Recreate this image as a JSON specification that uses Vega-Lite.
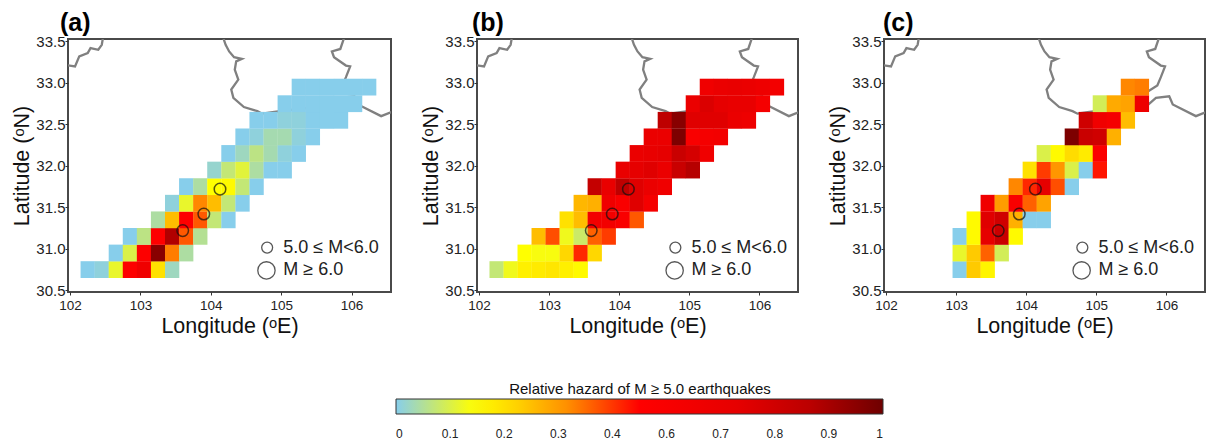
{
"$schema":"https://vega.github.io/schema/vega-lite/v6.json",
"padding":{"left":10,"top":10,"right":0,"bottom":0},
"background":"white",
"config":{"font":"Liberation Sans","view":{"stroke":"#4a4a4a","strokeWidth":2},
"axis":{"grid":false,"domain":false,"tickColor":"#333","tickSize":3,"labelColor":"#222","titleColor":"#111","titleFontWeight":"normal","titleFontSize":21.5},
"axisX":{"labelFontSize":13.5,"labelPadding":3,"titlePadding":4},
"axisY":{"labelFontSize":15,"labelPadding":0,"titlePadding":2},
"title":{"anchor":"start","frame":"group","fontSize":25,"fontWeight":"bold","color":"black","offset":-2}},
"datasets":{
"boundaries":[
{"s":1,"i":1,"lon":101.9,"lat":33.22},{"s":1,"i":2,"lon":102.07,"lat":33.2},{"s":1,"i":3,"lon":102.13,"lat":33.32},{"s":1,"i":4,"lon":102.25,"lat":33.36},{"s":1,"i":5,"lon":102.29,"lat":33.42},{"s":1,"i":6,"lon":102.4,"lat":33.4},{"s":1,"i":7,"lon":102.45,"lat":33.46},{"s":1,"i":8,"lon":102.47,"lat":33.56},
{"s":2,"i":1,"lon":104.17,"lat":33.56},{"s":2,"i":2,"lon":104.21,"lat":33.46},{"s":2,"i":3,"lon":104.26,"lat":33.38},{"s":2,"i":4,"lon":104.33,"lat":33.31},{"s":2,"i":5,"lon":104.44,"lat":33.29},{"s":2,"i":6,"lon":104.36,"lat":33.26},{"s":2,"i":7,"lon":104.34,"lat":33.16},{"s":2,"i":8,"lon":104.39,"lat":33.04},{"s":2,"i":9,"lon":104.29,"lat":32.92},{"s":2,"i":10,"lon":104.32,"lat":32.82},{"s":2,"i":11,"lon":104.47,"lat":32.71},{"s":2,"i":12,"lon":104.66,"lat":32.66},{"s":2,"i":13,"lon":104.73,"lat":32.63},{"s":2,"i":14,"lon":104.9,"lat":32.65},{"s":2,"i":15,"lon":105.74,"lat":32.74},{"s":2,"i":16,"lon":105.85,"lat":32.82},{"s":2,"i":17,"lon":106.04,"lat":32.84},{"s":2,"i":18,"lon":106.09,"lat":32.74},{"s":2,"i":19,"lon":106.42,"lat":32.6},{"s":2,"i":20,"lon":106.6,"lat":32.66},
{"s":3,"i":1,"lon":105.9,"lat":33.56},{"s":3,"i":2,"lon":105.84,"lat":33.41},{"s":3,"i":3,"lon":105.72,"lat":33.38},{"s":3,"i":4,"lon":105.75,"lat":33.31},{"s":3,"i":5,"lon":105.92,"lat":33.21},{"s":3,"i":6,"lon":105.98,"lat":33.2},{"s":3,"i":7,"lon":105.92,"lat":33.07},{"s":3,"i":8,"lon":105.87,"lat":32.97},{"s":3,"i":9,"lon":105.74,"lat":32.9}
],
"quakes":[{"lon":104.13,"lat":31.72},{"lon":103.9,"lat":31.42},{"lon":103.6,"lat":31.22}],
"keySymbols":[{"lon":104.8,"lat":31.015,"k":"small"},{"lon":104.79,"lat":30.74,"k":"large"}],
"keyLabels":[{"lon":105.03,"lat":31.015,"label":"5.0 ≤ M<6.0"},{"lon":105.03,"lat":30.74,"label":"M ≥ 6.0"}],
"a":[
{"lon":102.25,"lat":30.75,"h":0},{"lon":102.45,"lat":30.75,"h":0.01},{"lon":102.65,"lat":30.75,"h":0.13},{"lon":102.85,"lat":30.75,"h":0.52},{"lon":103.05,"lat":30.75,"h":0.62},{"lon":103.25,"lat":30.75,"h":0.22},{"lon":103.45,"lat":30.75,"h":0.03},
{"lon":102.65,"lat":30.95,"h":0},{"lon":102.85,"lat":30.95,"h":0.11},{"lon":103.05,"lat":30.95,"h":0.52},{"lon":103.25,"lat":30.95,"h":0.95},{"lon":103.45,"lat":30.95,"h":0.37},{"lon":103.65,"lat":30.95,"h":0.05},
{"lon":102.85,"lat":31.15,"h":0},{"lon":103.05,"lat":31.15,"h":0.07},{"lon":103.25,"lat":31.15,"h":0.52},{"lon":103.45,"lat":31.15,"h":0.87},{"lon":103.65,"lat":31.15,"h":0.41},{"lon":103.85,"lat":31.15,"h":0.06},
{"lon":103.25,"lat":31.35,"h":0.05},{"lon":103.45,"lat":31.35,"h":0.28},{"lon":103.65,"lat":31.35,"h":0.52},{"lon":103.85,"lat":31.35,"h":0.41},{"lon":104.05,"lat":31.35,"h":0.08},{"lon":104.25,"lat":31.35,"h":0},
{"lon":103.45,"lat":31.55,"h":0.01},{"lon":103.65,"lat":31.55,"h":0.13},{"lon":103.85,"lat":31.55,"h":0.36},{"lon":104.05,"lat":31.55,"h":0.28},{"lon":104.25,"lat":31.55,"h":0.08},{"lon":104.45,"lat":31.55,"h":0},
{"lon":103.65,"lat":31.75,"h":0},{"lon":103.85,"lat":31.75,"h":0.05},{"lon":104.05,"lat":31.75,"h":0.16},{"lon":104.25,"lat":31.75,"h":0.17},{"lon":104.45,"lat":31.75,"h":0.08},{"lon":104.65,"lat":31.75,"h":0},
{"lon":104.05,"lat":31.95,"h":0.02},{"lon":104.25,"lat":31.95,"h":0.08},{"lon":104.45,"lat":31.95,"h":0.12},{"lon":104.65,"lat":31.95,"h":0.05},{"lon":104.85,"lat":31.95,"h":0},{"lon":105.05,"lat":31.95,"h":0},
{"lon":104.25,"lat":32.15,"h":0},{"lon":104.45,"lat":32.15,"h":0.03},{"lon":104.65,"lat":32.15,"h":0.07},{"lon":104.85,"lat":32.15,"h":0.04},{"lon":105.05,"lat":32.15,"h":0.01},{"lon":105.25,"lat":32.15,"h":0},
{"lon":104.45,"lat":32.35,"h":0},{"lon":104.65,"lat":32.35,"h":0.01},{"lon":104.85,"lat":32.35,"h":0.04},{"lon":105.05,"lat":32.35,"h":0.04},{"lon":105.25,"lat":32.35,"h":0.01},{"lon":105.45,"lat":32.35,"h":0},
{"lon":104.65,"lat":32.55,"h":0},{"lon":104.85,"lat":32.55,"h":0},{"lon":105.05,"lat":32.55,"h":0.01},{"lon":105.25,"lat":32.55,"h":0.01},{"lon":105.45,"lat":32.55,"h":0},{"lon":105.65,"lat":32.55,"h":0},{"lon":105.85,"lat":32.55,"h":0},
{"lon":105.05,"lat":32.75,"h":0},{"lon":105.25,"lat":32.75,"h":0},{"lon":105.45,"lat":32.75,"h":0},{"lon":105.65,"lat":32.75,"h":0},{"lon":105.85,"lat":32.75,"h":0},{"lon":106.05,"lat":32.75,"h":0},
{"lon":105.25,"lat":32.95,"h":0},{"lon":105.45,"lat":32.95,"h":0},{"lon":105.65,"lat":32.95,"h":0},{"lon":105.85,"lat":32.95,"h":0},{"lon":106.05,"lat":32.95,"h":0},{"lon":106.25,"lat":32.95,"h":0}
],
"b":[
{"lon":102.25,"lat":30.75,"h":0.08},{"lon":102.45,"lat":30.75,"h":0.14},{"lon":102.65,"lat":30.75,"h":0.19},{"lon":102.85,"lat":30.75,"h":0.2},{"lon":103.05,"lat":30.75,"h":0.21},{"lon":103.25,"lat":30.75,"h":0.19},{"lon":103.45,"lat":30.75,"h":0.17},
{"lon":102.65,"lat":30.95,"h":0.16},{"lon":102.85,"lat":30.95,"h":0.15},{"lon":103.05,"lat":30.95,"h":0.15},{"lon":103.25,"lat":30.95,"h":0.24},{"lon":103.45,"lat":30.95,"h":0.46},{"lon":103.65,"lat":30.95,"h":0.24},
{"lon":102.85,"lat":31.15,"h":0.28},{"lon":103.05,"lat":31.15,"h":0.42},{"lon":103.25,"lat":31.15,"h":0.14},{"lon":103.45,"lat":31.15,"h":0.09},{"lon":103.65,"lat":31.15,"h":0.4},{"lon":103.85,"lat":31.15,"h":0.44},
{"lon":103.25,"lat":31.35,"h":0.22},{"lon":103.45,"lat":31.35,"h":0.28},{"lon":103.65,"lat":31.35,"h":0.6},{"lon":103.85,"lat":31.35,"h":0.6},{"lon":104.05,"lat":31.35,"h":0.55},{"lon":104.25,"lat":31.35,"h":0.41},
{"lon":103.45,"lat":31.55,"h":0.29},{"lon":103.65,"lat":31.55,"h":0.3},{"lon":103.85,"lat":31.55,"h":0.62},{"lon":104.05,"lat":31.55,"h":0.55},{"lon":104.25,"lat":31.55,"h":0.72},{"lon":104.45,"lat":31.55,"h":0.58},
{"lon":103.65,"lat":31.75,"h":0.82},{"lon":103.85,"lat":31.75,"h":0.68},{"lon":104.05,"lat":31.75,"h":0.84},{"lon":104.25,"lat":31.75,"h":0.72},{"lon":104.45,"lat":31.75,"h":0.66},{"lon":104.65,"lat":31.75,"h":0.62},
{"lon":104.05,"lat":31.95,"h":0.68},{"lon":104.25,"lat":31.95,"h":0.7},{"lon":104.45,"lat":31.95,"h":0.72},{"lon":104.65,"lat":31.95,"h":0.66},{"lon":104.85,"lat":31.95,"h":0.8},{"lon":105.05,"lat":31.95,"h":0.86},
{"lon":104.25,"lat":32.15,"h":0.66},{"lon":104.45,"lat":32.15,"h":0.68},{"lon":104.65,"lat":32.15,"h":0.7},{"lon":104.85,"lat":32.15,"h":0.8},{"lon":105.05,"lat":32.15,"h":0.76},{"lon":105.25,"lat":32.15,"h":0.62},
{"lon":104.45,"lat":32.35,"h":0.66},{"lon":104.65,"lat":32.35,"h":0.66},{"lon":104.85,"lat":32.35,"h":0.97},{"lon":105.05,"lat":32.35,"h":0.55},{"lon":105.25,"lat":32.35,"h":0.58},{"lon":105.45,"lat":32.35,"h":0.6},
{"lon":104.65,"lat":32.55,"h":0.84},{"lon":104.85,"lat":32.55,"h":0.95},{"lon":105.05,"lat":32.55,"h":0.72},{"lon":105.25,"lat":32.55,"h":0.72},{"lon":105.45,"lat":32.55,"h":0.72},{"lon":105.65,"lat":32.55,"h":0.66},{"lon":105.85,"lat":32.55,"h":0.64},
{"lon":105.05,"lat":32.75,"h":0.66},{"lon":105.25,"lat":32.75,"h":0.74},{"lon":105.45,"lat":32.75,"h":0.7},{"lon":105.65,"lat":32.75,"h":0.68},{"lon":105.85,"lat":32.75,"h":0.68},{"lon":106.05,"lat":32.75,"h":0.58},
{"lon":105.25,"lat":32.95,"h":0.62},{"lon":105.45,"lat":32.95,"h":0.66},{"lon":105.65,"lat":32.95,"h":0.68},{"lon":105.85,"lat":32.95,"h":0.66},{"lon":106.05,"lat":32.95,"h":0.64},{"lon":106.25,"lat":32.95,"h":0.6}
],
"c":[
{"lon":103.05,"lat":30.75,"h":0},{"lon":103.25,"lat":30.75,"h":0.26},{"lon":103.45,"lat":30.75,"h":0.18},
{"lon":103.05,"lat":30.95,"h":0.13},{"lon":103.25,"lat":30.95,"h":0.26},{"lon":103.45,"lat":30.95,"h":0.4},{"lon":103.65,"lat":30.95,"h":0.1},
{"lon":103.05,"lat":31.15,"h":0},{"lon":103.25,"lat":31.15,"h":0.17},{"lon":103.45,"lat":31.15,"h":0.7},{"lon":103.65,"lat":31.15,"h":0.8},{"lon":103.85,"lat":31.15,"h":0.17},
{"lon":103.25,"lat":31.35,"h":0.17},{"lon":103.45,"lat":31.35,"h":0.72},{"lon":103.65,"lat":31.35,"h":0.78},{"lon":103.85,"lat":31.35,"h":0.3},{"lon":104.05,"lat":31.35,"h":0},{"lon":104.25,"lat":31.35,"h":0},
{"lon":103.45,"lat":31.55,"h":0.62},{"lon":103.65,"lat":31.55,"h":0.33},{"lon":103.85,"lat":31.55,"h":0.55},{"lon":104.05,"lat":31.55,"h":0.4},{"lon":104.25,"lat":31.55,"h":0.32},
{"lon":103.85,"lat":31.75,"h":0.36},{"lon":104.05,"lat":31.75,"h":0.46},{"lon":104.25,"lat":31.75,"h":0.7},{"lon":104.45,"lat":31.75,"h":0.42},{"lon":104.65,"lat":31.75,"h":0},
{"lon":104.05,"lat":31.95,"h":0.22},{"lon":104.25,"lat":31.95,"h":0.44},{"lon":104.45,"lat":31.95,"h":0.34},{"lon":104.65,"lat":31.95,"h":0.11},{"lon":104.85,"lat":31.95,"h":0},{"lon":105.05,"lat":31.95,"h":0.48},
{"lon":104.25,"lat":32.15,"h":0.11},{"lon":104.45,"lat":32.15,"h":0.17},{"lon":104.65,"lat":32.15,"h":0.23},{"lon":104.85,"lat":32.15,"h":0.2},{"lon":105.05,"lat":32.15,"h":0.53},
{"lon":104.65,"lat":32.35,"h":0.97},{"lon":104.85,"lat":32.35,"h":0.8},{"lon":105.05,"lat":32.35,"h":0.78},{"lon":105.25,"lat":32.35,"h":0.3},
{"lon":104.85,"lat":32.55,"h":0.78},{"lon":105.05,"lat":32.55,"h":0.62},{"lon":105.25,"lat":32.55,"h":0.58},{"lon":105.45,"lat":32.55,"h":0.28},
{"lon":105.05,"lat":32.75,"h":0.1},{"lon":105.25,"lat":32.75,"h":0.31},{"lon":105.45,"lat":32.75,"h":0.32},{"lon":105.65,"lat":32.75,"h":0.64},
{"lon":105.45,"lat":32.95,"h":0.36},{"lon":105.65,"lat":32.95,"h":0.37}
]},
"hconcat":[
{"title":{"text":"(a)","dx":-8},"width":323,"height":253,
"layer":[
{"data":{"name":"boundaries"},"mark":{"type":"line","color":"#808080","strokeWidth":2.3,"clip":true},"encoding":{"x":{"field":"lon","type":"quantitative","scale":{"domain":[101.97,106.56],"nice":false,"zero":false},"axis":{"values":[102,103,104,105,106],"format":"d","title":"Longitude (ᵒE)"}},"y":{"field":"lat","type":"quantitative","scale":{"domain":[30.48,33.53],"nice":false,"zero":false},"axis":{"values":[30.5,31,31.5,32,32.5,33,33.5],"format":".1f","title":"Latitude (ᵒN)"}},"detail":{"field":"s"},"order":{"field":"i"}}},
{"data":{"name":"a"},"mark":{"type":"rect","width":14.3,"height":16.8},"encoding":{"x":{"field":"lon","type":"quantitative"},"y":{"field":"lat","type":"quantitative"},
"color":{"field":"h","type":"quantitative","title":"Relative hazard of M ≥ 5.0 earthquakes","scale":{"domain":[0,0.16,0.24,0.35,0.43,0.5,0.7,0.85,1],"range":["#87CEEB","#FFFF00","#FFD700","#FF9000","#FF4500","#FF0000","#E60000","#BB0000","#6E0000"],"interpolate":"rgb","zero":false,"nice":false},
"legend":{"type":"gradient","orient":"none","legendX":328,"legendY":343,"direction":"horizontal","gradientLength":487,"gradientThickness":15,"gradientStrokeColor":"#333","gradientStrokeWidth":1,"values":[0,0.1111,0.2222,0.3333,0.4444,0.5556,0.6667,0.7778,0.8889,1],"format":".1~f","labelFontSize":12,"labelColor":"#222","labelOffset":15,"labelAlign":"center","labelOverlap":false,"titleFontSize":15,"titleFontWeight":"normal","titleColor":"#111","titleAnchor":"middle","titleOrient":"top","titlePadding":2,"titleLimit":500}}}},
{"data":{"name":"quakes"},"mark":{"type":"point","shape":"circle","filled":false,"stroke":"#111","strokeWidth":1.5,"size":133},"encoding":{"x":{"field":"lon","type":"quantitative"},"y":{"field":"lat","type":"quantitative"}}},
{"data":{"name":"keySymbols"},"mark":{"type":"point","shape":"circle","filled":false,"stroke":"#111","strokeWidth":1.3},"encoding":{"x":{"field":"lon","type":"quantitative"},"y":{"field":"lat","type":"quantitative"},"size":{"field":"k","type":"nominal","scale":{"domain":["small","large"],"range":[120,300]},"legend":null}}},
{"data":{"name":"keyLabels"},"mark":{"type":"text","align":"left","baseline":"middle","fontSize":18,"color":"#222"},"encoding":{"x":{"field":"lon","type":"quantitative"},"y":{"field":"lat","type":"quantitative"},"text":{"field":"label"}}}
]},
{"title":{"text":"(b)","dx":-5},"width":321,"height":253,
"layer":[
{"data":{"name":"boundaries"},"mark":{"type":"line","color":"#808080","strokeWidth":2.3,"clip":true},"encoding":{"x":{"field":"lon","type":"quantitative","scale":{"domain":[101.97,106.55],"nice":false,"zero":false},"axis":{"values":[102,103,104,105,106],"format":"d","title":"Longitude (ᵒE)"}},"y":{"field":"lat","type":"quantitative","scale":{"domain":[30.48,33.53],"nice":false,"zero":false},"axis":{"values":[30.5,31,31.5,32,32.5,33,33.5],"format":".1f","title":"Latitude (ᵒN)"}},"detail":{"field":"s"},"order":{"field":"i"}}},
{"data":{"name":"b"},"mark":{"type":"rect","width":14.3,"height":16.8},"encoding":{"x":{"field":"lon","type":"quantitative"},"y":{"field":"lat","type":"quantitative"},
"color":{"field":"h","type":"quantitative","scale":{"domain":[0,0.16,0.24,0.35,0.43,0.5,0.7,0.85,1],"range":["#87CEEB","#FFFF00","#FFD700","#FF9000","#FF4500","#FF0000","#E60000","#BB0000","#6E0000"],"interpolate":"rgb","zero":false,"nice":false}}}},
{"data":{"name":"quakes"},"mark":{"type":"point","shape":"circle","filled":false,"stroke":"#111","strokeWidth":1.5,"size":133},"encoding":{"x":{"field":"lon","type":"quantitative"},"y":{"field":"lat","type":"quantitative"}}},
{"data":{"name":"keySymbols"},"mark":{"type":"point","shape":"circle","filled":false,"stroke":"#111","strokeWidth":1.3},"encoding":{"x":{"field":"lon","type":"quantitative"},"y":{"field":"lat","type":"quantitative"},"size":{"field":"k","type":"nominal","scale":{"domain":["small","large"],"range":[120,300]},"legend":null}}},
{"data":{"name":"keyLabels"},"mark":{"type":"text","align":"left","baseline":"middle","fontSize":18,"color":"#222"},"encoding":{"x":{"field":"lon","type":"quantitative"},"y":{"field":"lat","type":"quantitative"},"text":{"field":"label"}}}
]},
{"title":{"text":"(c)","dx":-1},"width":321,"height":253,
"layer":[
{"data":{"name":"boundaries"},"mark":{"type":"line","color":"#808080","strokeWidth":2.3,"clip":true},"encoding":{"x":{"field":"lon","type":"quantitative","scale":{"domain":[101.97,106.55],"nice":false,"zero":false},"axis":{"values":[102,103,104,105,106],"format":"d","title":"Longitude (ᵒE)"}},"y":{"field":"lat","type":"quantitative","scale":{"domain":[30.48,33.53],"nice":false,"zero":false},"axis":{"values":[30.5,31,31.5,32,32.5,33,33.5],"format":".1f","title":"Latitude (ᵒN)"}},"detail":{"field":"s"},"order":{"field":"i"}}},
{"data":{"name":"c"},"mark":{"type":"rect","width":14.3,"height":16.8},"encoding":{"x":{"field":"lon","type":"quantitative"},"y":{"field":"lat","type":"quantitative"},
"color":{"field":"h","type":"quantitative","scale":{"domain":[0,0.16,0.24,0.35,0.43,0.5,0.7,0.85,1],"range":["#87CEEB","#FFFF00","#FFD700","#FF9000","#FF4500","#FF0000","#E60000","#BB0000","#6E0000"],"interpolate":"rgb","zero":false,"nice":false}}}},
{"data":{"name":"quakes"},"mark":{"type":"point","shape":"circle","filled":false,"stroke":"#111","strokeWidth":1.5,"size":133},"encoding":{"x":{"field":"lon","type":"quantitative"},"y":{"field":"lat","type":"quantitative"}}},
{"data":{"name":"keySymbols"},"mark":{"type":"point","shape":"circle","filled":false,"stroke":"#111","strokeWidth":1.3},"encoding":{"x":{"field":"lon","type":"quantitative"},"y":{"field":"lat","type":"quantitative"},"size":{"field":"k","type":"nominal","scale":{"domain":["small","large"],"range":[120,300]},"legend":null}}},
{"data":{"name":"keyLabels"},"mark":{"type":"text","align":"left","baseline":"middle","fontSize":18,"color":"#222"},"encoding":{"x":{"field":"lon","type":"quantitative"},"y":{"field":"lat","type":"quantitative"},"text":{"field":"label"}}}
]}
],
"spacing":86,"bounds":"flush",
"resolve":{"scale":{"color":"shared","size":"shared"},"legend":{"color":"shared"}}
}
